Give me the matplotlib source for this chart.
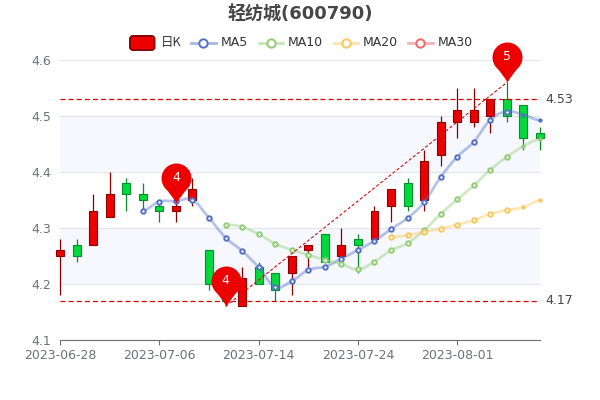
import numpy as np
import matplotlib
matplotlib.use('Agg')
import matplotlib.pyplot as plt
from matplotlib.path import Path
from matplotlib.patches import PathPatch, FancyBboxPatch
from matplotlib.lines import Line2D

dates = ['2023-06-28', '2023-06-29', '2023-06-30', '2023-07-03', '2023-07-04', '2023-07-05',
         '2023-07-06', '2023-07-07', '2023-07-10', '2023-07-11', '2023-07-12', '2023-07-13',
         '2023-07-14', '2023-07-17', '2023-07-18', '2023-07-19', '2023-07-20', '2023-07-21',
         '2023-07-24', '2023-07-25', '2023-07-26', '2023-07-27', '2023-07-28', '2023-07-31',
         '2023-08-01', '2023-08-02', '2023-08-03', '2023-08-04', '2023-08-07', '2023-08-08']
opens = [4.25, 4.27, 4.27, 4.32, 4.38, 4.36, 4.34, 4.33, 4.35, 4.26, 4.21, 4.16, 4.23, 4.22, 4.22,
         4.26, 4.29, 4.25, 4.28, 4.28, 4.34, 4.38, 4.35, 4.43, 4.49, 4.49, 4.50, 4.53, 4.52, 4.47]
closes = [4.26, 4.25, 4.33, 4.36, 4.36, 4.35, 4.33, 4.34, 4.37, 4.20, 4.17, 4.21, 4.20, 4.19, 4.25,
          4.27, 4.24, 4.27, 4.27, 4.33, 4.37, 4.34, 4.42, 4.49, 4.51, 4.51, 4.53, 4.50, 4.46, 4.46]
lows = [4.18, 4.24, 4.27, 4.32, 4.33, 4.33, 4.31, 4.31, 4.34, 4.19, 4.16, 4.16, 4.20, 4.17, 4.18,
        4.23, 4.24, 4.24, 4.22, 4.28, 4.31, 4.33, 4.33, 4.41, 4.46, 4.48, 4.47, 4.49, 4.44, 4.44]
highs = [4.28, 4.28, 4.36, 4.40, 4.39, 4.38, 4.35, 4.35, 4.39, 4.26, 4.21, 4.23, 4.24, 4.22, 4.25,
         4.27, 4.29, 4.30, 4.29, 4.34, 4.37, 4.39, 4.44, 4.50, 4.55, 4.55, 4.53, 4.56, 4.52, 4.48]

ma5 = [None] * 5 + [4.33, 4.347, 4.348, 4.35, 4.318, 4.283, 4.259, 4.23, 4.195, 4.205, 4.225, 4.231,
                    4.245, 4.261, 4.277, 4.298, 4.318, 4.346, 4.391, 4.427, 4.454, 4.493, 4.508, 4.502, 4.492]
ma10 = [None] * 10 + [4.306, 4.302, 4.289, 4.272, 4.261, 4.252, 4.243, 4.236, 4.226, 4.24, 4.26, 4.273,
                      4.296, 4.325, 4.351, 4.376, 4.404, 4.427, 4.446, 4.459]
ma20 = [None] * 20 + [4.284, 4.287, 4.293, 4.299, 4.306, 4.314, 4.325, 4.332, 4.337, 4.35]

pins = [(7, 4.345, '4'), (10, 4.16, '4'), (27, 4.56, '5')]
hlines = [4.53, 4.17]
yticks = [4.1, 4.2, 4.3, 4.4, 4.5, 4.6]
xtick_idx = [0, 6, 12, 18, 24]

RED, RED_EDGE = '#ec0000', '#8A0000'
GREEN, GREEN_EDGE = '#00da3c', '#008F28'
MA_COLORS = {'MA5': '#5470C6', 'MA10': '#91CC75', 'MA20': '#FAC858', 'MA30': '#EE6666'}
GRAY = '#6E7079'
FS = 9


def smooth_path(xs, ys, k=0.25):
    # bezier through the points, control points from the neighbours
    verts = [(xs[0], ys[0])]
    codes = [Path.MOVETO]
    n = len(xs)
    for i in range(n - 1):
        y0 = ys[max(i - 1, 0)]
        y3 = ys[min(i + 2, n - 1)]
        verts += [(xs[i] + 0.4, ys[i] + k * (ys[i + 1] - y0) * 0.8),
                  (xs[i + 1] - 0.4, ys[i + 1] - k * (y3 - ys[i]) * 0.8),
                  (xs[i + 1], ys[i + 1])]
        codes += [Path.CURVE4] * 3
    return Path(verts, codes)


def pin_marker():
    # teardrop with its tip at the origin, slightly concave sides near the tip
    arc = Path.arc(-40, 220)
    v = arc.vertices * 15 + np.array([0, 25])
    end = v[-1]
    start = v[0]
    verts = np.vstack([v, [[end[0] * 0.45, 9], [0, 0]], [[start[0] * 0.45, 9], start], [start]])
    codes = list(arc.codes) + [Path.CURVE3, Path.CURVE3, Path.CURVE3, Path.CURVE3, Path.CLOSEPOLY]
    return Path(verts, codes)


fig = plt.figure(figsize=(6, 4), dpi=100)
ax = fig.add_axes([60 / 600, 60 / 400, 480 / 600, 280 / 400])
ax.set_xlim(0, len(dates) - 1)
ax.set_ylim(4.1, 4.6)

# bands and grid
for lo in [4.2, 4.4]:
    ax.axhspan(lo, lo + 0.1, color='#F6F8FD', lw=0, zorder=0)
ax.set_yticks(yticks)
ax.set_yticklabels(['%.1f' % t for t in yticks])
ax.set_xticks(xtick_idx)
ax.set_xticklabels([dates[i] for i in xtick_idx])
ax.grid(axis='y', color='#E0E6F1', lw=0.8, zorder=1)
ax.set_axisbelow(True)
for s in ['top', 'right', 'left']:
    ax.spines[s].set_visible(False)
ax.spines['bottom'].set_color(GRAY)
ax.spines['bottom'].set_linewidth(0.8)
ax.tick_params(axis='y', length=0, labelsize=FS, labelcolor=GRAY, pad=6.5)
ax.tick_params(axis='x', length=3.6, width=0.8, color=GRAY, labelsize=FS, labelcolor=GRAY, pad=3)

# candles
for i in range(len(dates)):
    up = closes[i] >= opens[i]
    edge = RED_EDGE if up else GREEN_EDGE
    face = RED if up else GREEN
    ax.vlines(i, lows[i], highs[i], color=edge, lw=0.9, zorder=3, clip_on=False)
    ax.bar(i, abs(closes[i] - opens[i]), bottom=min(opens[i], closes[i]), width=0.48,
           color=face, edgecolor=edge, lw=0.8, zorder=3, clip_on=False)

# moving averages
for name, vals in [('MA5', ma5), ('MA10', ma10), ('MA20', ma20)]:
    xs = [i for i, v in enumerate(vals) if v is not None]
    ys = [vals[i] for i in xs]
    c = MA_COLORS[name]
    ax.add_patch(PathPatch(smooth_path(xs, ys), fc='none', ec=c, lw=2, alpha=0.42, zorder=4, clip_on=False))
    ax.plot(xs[:-2], ys[:-2], ls='none', marker='o', ms=3.2, mfc='white', mec=c, mew=1.4, zorder=5, clip_on=False)
    ax.plot(xs[-2:], ys[-2:], ls='none', marker='o', ms=2.6, mfc=c, mec=c, mew=0.4, zorder=5, clip_on=False)

# mark lines
ax.plot([pins[1][0], pins[2][0]], [pins[1][1], pins[2][1]], color='#e00000', lw=0.75, ls=(0, (3, 2)), zorder=6)
for v in hlines:
    ax.axhline(v, color='#d80000', lw=0.9, ls=(0, (4, 2.5)), zorder=6)
    ax.annotate('%.2f' % v, (1, v), xycoords=('axes fraction', 'data'), xytext=(3.6, 0),
                textcoords='offset points', va='center', ha='left', fontsize=FS, color='#464646')

# pins
marker = pin_marker()
for x, y, label in pins:
    ax.plot([x], [y], ls='none', marker=marker, ms=57.6, mfc='#ec0000', mec='none', zorder=7, clip_on=False)
    ax.annotate(label, (x, y), xytext=(0, 18.5), textcoords='offset points', ha='center', va='center',
                fontsize=FS, color='white', zorder=8)

# title
fig.text(0.5, 1 - 15 / 400, '轻纺城(600790)', ha='center', va='center', fontsize=13,
         fontweight='bold', color='#464646', family=['DejaVu Sans', 'Noto Sans CJK SC'])

# legend, in pixels from the top left
leg = fig.add_axes([0, 0, 1, 1], facecolor='none')
leg.set_xlim(0, 600)
leg.set_ylim(400, 0)
leg.axis('off')
leg.add_patch(FancyBboxPatch((130, 36), 24.5, 14, boxstyle='round,pad=0,rounding_size=3',
                             fc=RED, ec=RED_EDGE, lw=1.4))
leg.text(160.5, 42.7, '日K', va='center', ha='left', fontsize=FS, color='#333333',
         family=['Noto Sans CJK SC', 'DejaVu Sans'])
for name, x0 in [('MA5', 191), ('MA10', 258.5), ('MA20', 333.5), ('MA30', 408)]:
    c = MA_COLORS[name]
    leg.add_line(Line2D([x0, x0 + 24.5], [42.7, 42.7], color=c, lw=2, alpha=0.5))
    leg.plot([x0 + 12.2], [42.7], marker='o', ms=6, mfc='white', mec=c, mew=1.4, ls='none')
    leg.text(x0 + 29.7, 42.7, name, va='center', ha='left', fontsize=FS, color='#333333')

fig.savefig('out.png', dpi=100)
